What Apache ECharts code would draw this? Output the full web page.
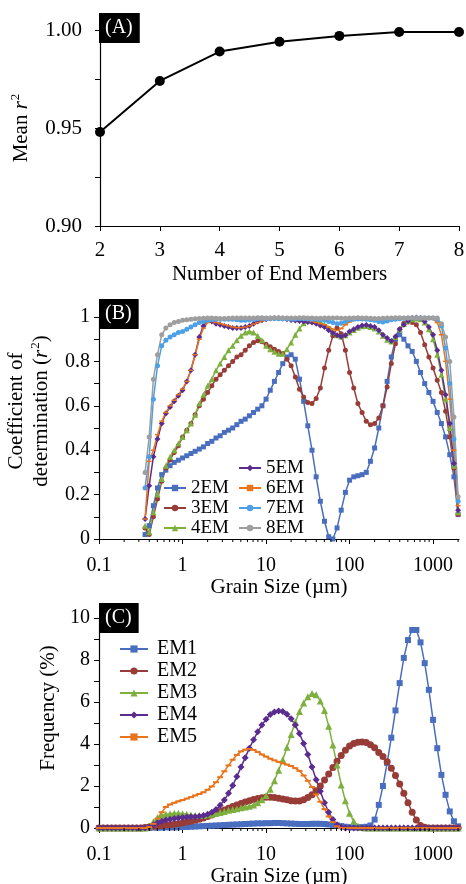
<!DOCTYPE html>
<html>
<head>
<meta charset="utf-8">
<script src="https://cdn.jsdelivr.net/npm/echarts@6/dist/echarts.min.js"></script>
<style>
html, body { margin: 0; padding: 0; background: #fff; }
#main { width: 466px; height: 884px; }
</style>
</head>
<body>
<div id="main"></div>
<script>
// (A) mean r2 by number of end members
var endMembers = [2, 3, 4, 5, 6, 7, 8];
var meanR2 = [0.948, 0.974, 0.989, 0.994, 0.997, 0.999, 0.999];

// grain size classes (um)
var grainSize = [0.1, 0.112, 0.126, 0.142, 0.159, 0.178, 0.2, 0.224, 0.252, 0.283, 0.317,
	0.356, 0.399, 0.448, 0.502, 0.564, 0.632, 0.71, 0.796, 0.893, 1.002,
	1.125, 1.262, 1.416, 1.589, 1.783, 2, 2.244, 2.518, 2.825, 3.17,
	3.557, 3.991, 4.477, 5.024, 5.637, 6.325, 7.096, 7.962, 8.934, 10.02,
	11.25, 12.62, 14.16, 15.89, 17.83, 20, 22.44, 25.18, 28.25, 31.7,
	35.57, 39.91, 44.77, 50.24, 56.37, 63.25, 70.96, 79.62, 89.34, 100.2,
	112.5, 126.2, 141.6, 158.9, 178.3, 200, 224.4, 251.8, 282.5, 317,
	355.7, 399.1, 447.7, 502.4, 563.7, 632.5, 709.6, 796.2, 893.4, 1002,
	1125, 1262, 1416, 1589, 1783, 2000];
var minorTicks = [0.2, 0.3, 0.4, 0.5, 0.6, 0.7, 0.8, 0.9, 2, 3, 4, 5, 6, 7, 8, 9,
	20, 30, 40, 50, 60, 70, 80, 90, 200, 300, 400, 500, 600, 700, 800, 900, 2000];

// (B) r2 per grain size class, starting at 0.356 um
var r2_2EM = [0.02, 0.06, 0.15, 0.23, 0.29, 0.31, 0.33, 0.345, 0.355, 0.365,
	0.375, 0.385, 0.395, 0.405, 0.415, 0.43, 0.44, 0.455, 0.465, 0.48,
	0.49, 0.50, 0.515, 0.53, 0.54, 0.555, 0.57, 0.585, 0.60, 0.63,
	0.67, 0.71, 0.75, 0.79, 0.82, 0.83, 0.81, 0.72, 0.62, 0.51,
	0.40, 0.28, 0.17, 0.08, 0.01, 0.0, 0.05, 0.13, 0.21, 0.265,
	0.28, 0.285, 0.29, 0.30, 0.35, 0.41, 0.50, 0.60, 0.71, 0.82,
	0.90, 0.92, 0.90, 0.87, 0.845, 0.80, 0.75, 0.70, 0.66, 0.62,
	0.57, 0.52, 0.46, 0.38, 0.28, 0.11];
var r2_3EM = [0.05, 0.02, 0.10, 0.18, 0.26, 0.32, 0.356, 0.39, 0.42, 0.46,
	0.49, 0.52, 0.56, 0.60, 0.63, 0.66, 0.69, 0.72, 0.74, 0.76,
	0.78, 0.80, 0.82, 0.83, 0.85, 0.87, 0.885, 0.893, 0.888, 0.877,
	0.866, 0.855, 0.845, 0.836, 0.81, 0.78, 0.73, 0.675, 0.64, 0.615,
	0.61, 0.633, 0.68, 0.77, 0.85, 0.915, 0.95, 0.925, 0.85, 0.75,
	0.68, 0.61, 0.57, 0.53, 0.515, 0.52, 0.545, 0.60, 0.685, 0.79,
	0.88, 0.945, 0.972, 0.978, 0.975, 0.965, 0.93, 0.875, 0.82, 0.77,
	0.715, 0.66, 0.575, 0.46, 0.32, 0.11];
var r2_4EM = [0.06, 0.03, 0.12, 0.20, 0.27, 0.33, 0.37, 0.40, 0.43, 0.46,
	0.49, 0.52, 0.56, 0.61, 0.65, 0.69, 0.72, 0.76, 0.79, 0.82,
	0.85, 0.87, 0.895, 0.915, 0.93, 0.935, 0.93, 0.915, 0.895, 0.87,
	0.855, 0.843, 0.835, 0.835, 0.855, 0.885, 0.92, 0.948, 0.972, 0.983,
	0.986, 0.984, 0.978, 0.965, 0.95, 0.93, 0.918, 0.912, 0.918, 0.93,
	0.942, 0.952, 0.958, 0.96, 0.955, 0.948, 0.935, 0.915, 0.898, 0.89,
	0.91, 0.945, 0.968, 0.982, 0.99, 0.993, 0.99, 0.975, 0.945, 0.90,
	0.83, 0.74, 0.63, 0.50, 0.33, 0.12];
var r2_5EM = [0.09, 0.24, 0.37, 0.45, 0.52, 0.565, 0.595, 0.62, 0.645, 0.67,
	0.71, 0.76, 0.83, 0.91, 0.96, 0.985, 0.98, 0.97, 0.965, 0.96,
	0.955, 0.95, 0.95, 0.95, 0.955, 0.96, 0.97, 0.98, 0.985, 0.99,
	0.993, 0.994, 0.994, 0.993, 0.99, 0.986, 0.984, 0.982, 0.98, 0.978,
	0.975, 0.97, 0.962, 0.955, 0.94, 0.928, 0.918, 0.911, 0.918, 0.935,
	0.945, 0.955, 0.962, 0.964, 0.96, 0.955, 0.94, 0.92, 0.905, 0.892,
	0.912, 0.945, 0.965, 0.982, 0.995, 0.998, 0.995, 0.98, 0.955, 0.92,
	0.85, 0.76, 0.65, 0.52, 0.34, 0.13];
var r2_6EM = [0.09, 0.35, 0.40, 0.47, 0.53, 0.57, 0.60, 0.625, 0.65, 0.675,
	0.71, 0.76, 0.83, 0.90, 0.95, 0.975, 0.98, 0.975, 0.97, 0.965,
	0.96, 0.955, 0.952, 0.952, 0.955, 0.96, 0.968, 0.975, 0.982, 0.988,
	0.99, 0.99, 0.99, 0.99, 0.99, 0.99, 0.99, 0.99, 0.988, 0.985,
	0.98, 0.975, 0.97, 0.965, 0.955, 0.945, 0.94, 0.948, 0.965, 0.978,
	0.985, 0.99, 0.99, 0.99, 0.99, 0.99, 0.99, 0.99, 0.99, 0.99,
	0.99, 0.99, 0.99, 0.992, 0.992, 0.992, 0.992, 0.992, 0.99, 0.99,
	0.975, 0.92, 0.80, 0.63, 0.40, 0.15];
var r2_7EM = [0.23, 0.37, 0.63, 0.78, 0.87, 0.895, 0.91, 0.92, 0.93, 0.935,
	0.945, 0.955, 0.965, 0.975, 0.98, 0.985, 0.988, 0.99, 0.99, 0.99,
	0.99, 0.99, 0.988, 0.985, 0.985, 0.987, 0.99, 0.992, 0.993, 0.993,
	0.993, 0.993, 0.992, 0.992, 0.992, 0.991, 0.991, 0.992, 0.992, 0.991,
	0.99, 0.99, 0.989, 0.985, 0.98, 0.975, 0.97, 0.972, 0.98, 0.988,
	0.99, 0.991, 0.991, 0.99, 0.988, 0.985, 0.98, 0.978, 0.982, 0.988,
	0.99, 0.992, 0.994, 0.995, 0.995, 0.995, 0.995, 0.995, 0.995, 0.995,
	0.99, 0.96, 0.86, 0.70, 0.45, 0.17];
var r2_8EM = [0.30, 0.46, 0.72, 0.83, 0.92, 0.95, 0.965, 0.975, 0.98, 0.985,
	0.988, 0.99, 0.992, 0.993, 0.994, 0.995, 0.995, 0.994, 0.993, 0.993,
	0.994, 0.995, 0.996, 0.996, 0.995, 0.995, 0.996, 0.997, 0.997, 0.996,
	0.996, 0.997, 0.997, 0.996, 0.995, 0.995, 0.996, 0.997, 0.997, 0.996,
	0.995, 0.994, 0.994, 0.995, 0.996, 0.996, 0.995, 0.994, 0.994, 0.995,
	0.996, 0.997, 0.996, 0.995, 0.994, 0.993, 0.993, 0.994, 0.995, 0.996,
	0.997, 0.997, 0.996, 0.996, 0.997, 0.997, 0.996, 0.996, 0.996, 0.996,
	0.995, 0.97, 0.91, 0.80, 0.55, 0.19];

// (C) end member frequency (%) per grain size class
var em1 = [0, 0, 0, 0, 0, 0, 0, 0, 0, 0, 0,
	0.01, 0.01, 0.02, 0.02, 0.02, 0.03, 0.03, 0.03, 0.04, 0.05,
	0.05, 0.06, 0.07, 0.08, 0.09, 0.1, 0.11, 0.12, 0.13, 0.14,
	0.15, 0.16, 0.17, 0.18, 0.19, 0.2, 0.21, 0.22, 0.22, 0.23,
	0.23, 0.24, 0.24, 0.23, 0.22, 0.21, 0.2, 0.19, 0.19, 0.19,
	0.2, 0.2, 0.2, 0.19, 0.17, 0.15, 0.12, 0.09, 0.06, 0.04,
	0.03, 0.03, 0.04, 0.06, 0.12, 0.4, 1.1, 2.0, 3.1, 4.3,
	5.6, 6.9, 8.1, 8.95, 9.43, 9.43, 8.84, 7.85, 6.58, 5.15,
	3.8, 2.53, 1.58, 0.79, 0.32, 0.08];
var em2 = [0, 0, 0, 0, 0, 0, 0, 0, 0, 0, 0,
	0.02, 0.05, 0.08, 0.10, 0.12, 0.14, 0.16, 0.18, 0.20, 0.24,
	0.28, 0.32, 0.37, 0.42, 0.48, 0.55, 0.62, 0.70, 0.78, 0.86,
	0.94, 1.02, 1.10, 1.17, 1.24, 1.30, 1.36, 1.40, 1.44, 1.47,
	1.47, 1.45, 1.42, 1.38, 1.34, 1.30, 1.28, 1.29, 1.35, 1.45,
	1.58, 1.77, 2.0, 2.28, 2.57, 2.88, 3.18, 3.45, 3.7, 3.9,
	4.02, 4.08, 4.1, 4.07, 3.97, 3.82, 3.6, 3.4, 3.15, 2.85,
	2.5, 2.1, 1.65, 1.2, 0.75, 0.38, 0.12, 0.03, 0, 0,
	0, 0, 0, 0, 0, 0];
var em3 = [0, 0, 0, 0, 0, 0, 0, 0, 0, 0, 0,
	0, 0.1, 0.3, 0.5, 0.6, 0.65, 0.68, 0.7, 0.7, 0.68,
	0.65, 0.62, 0.6, 0.6, 0.61, 0.63, 0.66, 0.7, 0.74, 0.79,
	0.84, 0.88, 0.92, 0.96, 1.0, 1.04, 1.1, 1.2, 1.35, 1.55,
	1.85, 2.25, 2.75, 3.25, 3.85, 4.45, 5.05, 5.55, 5.95, 6.25,
	6.4, 6.35, 6.05, 5.6, 4.85, 3.95, 3.0, 2.05, 1.3, 0.7,
	0.32, 0.1, 0.02, 0, 0, 0, 0, 0, 0, 0,
	0, 0, 0, 0, 0, 0, 0, 0, 0, 0,
	0, 0, 0, 0, 0, 0];
var em4 = [0, 0, 0, 0, 0, 0, 0, 0, 0, 0, 0,
	0, 0.05, 0.15, 0.25, 0.32, 0.38, 0.42, 0.45, 0.48, 0.50,
	0.52, 0.53, 0.54, 0.56, 0.60, 0.66, 0.75, 0.88, 1.08, 1.33,
	1.65, 2.02, 2.45, 2.9, 3.35, 3.8, 4.2, 4.58, 4.9, 5.18,
	5.4, 5.52, 5.57, 5.55, 5.42, 5.2, 4.9, 4.5, 4.02, 3.5,
	2.9, 2.3, 1.75, 1.2, 0.75, 0.4, 0.15, 0.05, 0, 0,
	0, 0, 0, 0, 0, 0, 0, 0, 0, 0,
	0, 0, 0, 0, 0, 0, 0, 0, 0, 0,
	0, 0, 0, 0, 0, 0];
var em5 = [0, 0, 0, 0, 0, 0, 0, 0, 0, 0, 0,
	0, 0.05, 0.2, 0.45, 0.75, 1.0, 1.12, 1.2, 1.27, 1.33,
	1.4, 1.47, 1.55, 1.62, 1.7, 1.82, 1.98, 2.18, 2.42, 2.7,
	2.98, 3.25, 3.48, 3.65, 3.73, 3.76, 3.72, 3.62, 3.5, 3.4,
	3.3, 3.22, 3.15, 3.08, 3.02, 2.95, 2.85, 2.72, 2.5, 2.25,
	1.95, 1.6, 1.25, 0.9, 0.55, 0.28, 0.08, 0, 0, 0,
	0, 0, 0, 0, 0, 0, 0, 0, 0, 0,
	0, 0, 0, 0, 0, 0, 0, 0, 0, 0,
	0, 0, 0, 0, 0, 0];

var FONT = "'Liberation Serif', 'Times New Roman', serif";
var sizeB = grainSize.slice(11);

var chart = echarts.init(document.getElementById('main'), null, {renderer: 'canvas'});

function pairs(xs, ys) {
	return ys.map(function(v, i) { return [xs[i], v]; });
}

function lineSeries(name, idx, xs, ys, color, symbol, size, width) {
	return {
		name: name,
		type: 'line',
		xAxisIndex: idx,
		yAxisIndex: idx,
		data: pairs(xs, ys),
		symbol: symbol,
		symbolSize: size,
		clip: false,
		itemStyle: { color: color },
		lineStyle: { color: color, width: width || 1.5 }
	};
}

function axisBase(gridIndex) {
	return {
		gridIndex: gridIndex,
		splitLine: { show: false },
		axisLine: { show: true, onZero: false, lineStyle: { color: '#000', width: 1.2 } },
		axisTick: { show: true, inside: false, length: 5, lineStyle: { color: '#000', width: 1 } },
		axisLabel: { color: '#000', fontFamily: FONT, fontSize: 20 },
		nameLocation: 'middle',
		nameTextStyle: { color: '#000', fontFamily: FONT, fontSize: 21 }
	};
}

function logXAxis(gridIndex, gap, margin) {
	return Object.assign(axisBase(gridIndex), {
		type: 'log',
		logBase: 10,
		min: 0.1,
		max: 2050,
		name: 'Grain Size (\u00b5m)',
		nameGap: gap,
		axisLabel: {
			color: '#000', fontFamily: FONT, fontSize: 20, margin: margin,
			showMaxLabel: false,
			formatter: function(v) { return String(+Number(v).toPrecision(4)); }
		}
	});
}

function titleBox(text, top) {
	return {
		text: text,
		left: 99,
		top: top,
		padding: [5, 7, 5, 6],
		backgroundColor: '#000',
		textStyle: { color: '#fff', fontFamily: FONT, fontSize: 20, fontWeight: 'normal', lineHeight: 20 }
	};
}

var richSup = {
	i: { fontFamily: FONT, fontSize: 21, fontStyle: 'italic', color: '#000', lineHeight: 25 },
	s: { fontFamily: FONT, fontSize: 13, color: '#000', verticalAlign: 'top', lineHeight: 25, padding: [0, 0, 8, 1] }
};

var legendText = { color: '#000', fontFamily: FONT, fontSize: 19, lineHeight: 20 };

var option = {
	animation: false,
	backgroundColor: '#fff',
	title: [titleBox('(A)', 13), titleBox('(B)', 299), titleBox('(C)', 603)],
	grid: [
		{ left: 100, right: 7, top: 30, height: 196, outerBoundsMode: 'none' },
		{ left: 99, right: 7, top: 317, height: 222, outerBoundsMode: 'none' },
		{ left: 99, right: 7, top: 618, height: 210, outerBoundsMode: 'none' }
	],
	legend: [
		{ data: ['2EM', '3EM', '4EM'], orient: 'vertical', left: 163, top: 478, padding: 0,
			itemGap: 0, itemWidth: 22, itemHeight: 8, selectedMode: false, textStyle: legendText },
		{ data: ['5EM', '6EM', '7EM', '8EM'], orient: 'vertical', left: 238, top: 458, padding: 0,
			itemGap: 0, itemWidth: 22, itemHeight: 8, selectedMode: false, textStyle: legendText },
		{ data: ['EM1', 'EM2', 'EM3', 'EM4', 'EM5'], orient: 'vertical', left: 119, top: 639, padding: 0,
			itemGap: 2, itemWidth: 28, itemHeight: 9, selectedMode: false,
			textStyle: { color: '#000', fontFamily: FONT, fontSize: 20, lineHeight: 20, padding: [0, 0, 0, 4] } }
	],
	xAxis: [
		Object.assign(axisBase(0), {
			type: 'value', min: 2, max: 8, interval: 1,
			name: 'Number of End Members', nameGap: 38,
			axisLabel: { color: '#000', fontFamily: FONT, fontSize: 21, margin: 14 }
		}),
		logXAxis(1, 33, 17),
		logXAxis(2, 36, 17)
	],
	yAxis: [
		Object.assign(axisBase(0), {
			type: 'value', min: 0.9, max: 1.0, interval: 0.05,
			minorTick: { show: true, splitNumber: 2, length: 5, lineStyle: { color: '#000', width: 1 } },
			axisLabel: { color: '#000', fontFamily: FONT, fontSize: 21, margin: 18,
				formatter: function(v) { return v.toFixed(2); } },
			name: 'Mean {i|r}{s|2}', nameGap: 62,
			nameTextStyle: { color: '#000', fontFamily: FONT, fontSize: 21, lineHeight: 25, rich: richSup }
		}),
		Object.assign(axisBase(1), {
			type: 'value', min: 0, max: 1, interval: 0.2,
			minorTick: { show: true, splitNumber: 2, length: 5, lineStyle: { color: '#000', width: 1 } },
			axisLabel: { color: '#000', fontFamily: FONT, fontSize: 20, margin: 9 },
			name: 'Coefficient of\ndetermination ({i|r}{s|2})', nameGap: 39,
			nameTextStyle: { color: '#000', fontFamily: FONT, fontSize: 21, lineHeight: 25,
				padding: [0, 0, 0, 34], rich: richSup }
		}),
		Object.assign(axisBase(2), {
			type: 'value', min: 0, max: 10, interval: 2,
			minorTick: { show: true, splitNumber: 2, length: 5, lineStyle: { color: '#000', width: 1 } },
			axisLabel: { color: '#000', fontFamily: FONT, fontSize: 20, margin: 9 },
			name: 'Frequency (%)', nameGap: 35,
			nameTextStyle: { color: '#000', fontFamily: FONT, fontSize: 21, padding: [0, 0, 0, 30] }
		})
	],
	series: [
		lineSeries('mean', 0, endMembers, meanR2, '#000', 'circle', 10, 2),

		lineSeries('2EM', 1, sizeB, r2_2EM, '#4A6EBF', 'rect', 5),
		lineSeries('3EM', 1, sizeB, r2_3EM, '#983C37', 'circle', 5),
		lineSeries('4EM', 1, sizeB, r2_4EM, '#7DB03F', 'triangle', 6),
		lineSeries('5EM', 1, sizeB, r2_5EM, '#5B2C8F', 'diamond', 6),
		lineSeries('6EM', 1, sizeB, r2_6EM, '#E8741C', 'rect', [5, 1.5]),
		lineSeries('7EM', 1, sizeB, r2_7EM, '#4DA0E6', 'circle', 5),
		lineSeries('8EM', 1, sizeB, r2_8EM, '#9E9E9E', 'circle', 5),

		lineSeries('EM1', 2, grainSize, em1, '#4A6EBF', 'rect', 6),
		lineSeries('EM2', 2, grainSize, em2, '#983C37', 'circle', 7),
		lineSeries('EM3', 2, grainSize, em3, '#7DB03F', 'triangle', 7),
		lineSeries('EM4', 2, grainSize, em4, '#5B2C8F', 'diamond', 7),
		lineSeries('EM5', 2, grainSize, em5, '#E8741C', 'rect', [6, 2])
	]
};

chart.setOption(option);

// minor ticks (2..9 in each decade) on the log axes
var tickMarks = [];
[1, 2].forEach(function(idx) {
	minorTicks.forEach(function(v) {
		var p = chart.convertToPixel({ gridIndex: idx }, [v, 0]);
		if (!p || isNaN(p[0]) || isNaN(p[1])) return;
		tickMarks.push({
			type: 'line', silent: true, z: 100,
			shape: { x1: p[0], y1: p[1], x2: p[0], y2: p[1] + 3 },
			style: { stroke: '#000', lineWidth: 1 }
		});
	});
});
chart.setOption({ graphic: { elements: tickMarks } });
</script>
</body>
</html>
